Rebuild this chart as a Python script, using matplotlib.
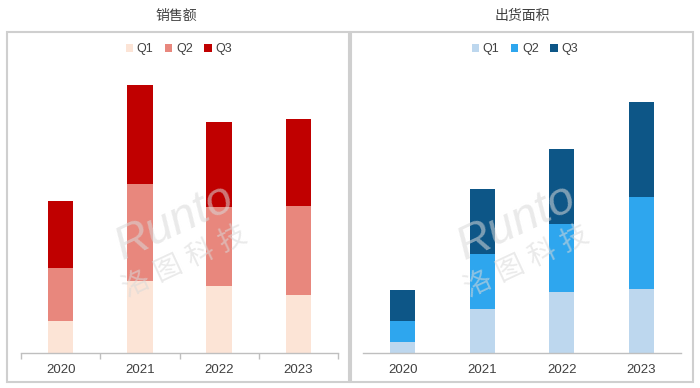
import matplotlib
matplotlib.use("Agg")
import matplotlib.pyplot as plt
from matplotlib.patches import Rectangle
import numpy as np

plt.rcParams['font.family'] = ['Liberation Sans', 'Noto Sans CJK SC', 'DejaVu Sans']

# data (arbitrary units)
years = ['2020', '2021', '2022', '2023']
quarters = ['Q1', 'Q2', 'Q3']

sales_q1 = [32, 72, 67, 58]
sales_q2 = [53, 97, 79, 89]
sales_q3 = [67, 99, 85, 87]

area_q1 = [11, 44, 61, 64]
area_q2 = [21, 55, 68, 92]
area_q3 = [31, 65, 75, 95]

sales_colors = ['#FCE4D6', '#E8877D', '#C00000']
area_colors = ['#BDD7EE', '#2EA6EE', '#0D5687']

W, H = 700, 388
fig = plt.figure(figsize=(W / 100, H / 100), dpi=100)
fig.patch.set_facecolor('white')


def px(x0, y0, x1, y1):
    # pixel box (top-left origin) -> figure fraction
    return [x0 / W, 1 - y1 / H, (x1 - x0) / W, (y1 - y0) / H]


# panel frames
for x0, x1 in [(7, 349), (351, 693)]:
    fig.patches.append(Rectangle((x0 / W, 1 - 382 / H), (x1 - x0) / W, (382 - 32) / H,
                                 transform=fig.transFigure, fill=False,
                                 edgecolor='#CFCFCF', linewidth=1.5))

panels = [
    ('销售额', [sales_q1, sales_q2, sales_q3], sales_colors, (21, 338), 176, True),
    ('出货面积', [area_q1, area_q2, area_q3], area_colors, (363, 681), 522, False),
]

for title, series, colors, (ax0, ax1), cx, ticks in panels:
    ax = fig.add_axes(px(ax0, 70, ax1, 353))
    x = np.arange(len(years))
    bottom = np.zeros(len(years))
    handles = []
    for vals, col, q in zip(series, colors, quarters):
        b = ax.bar(x, vals, width=0.32, bottom=bottom, color=col, label=q, zorder=2)
        handles.append(b)
        bottom += np.array(vals)
    ax.set_xlim(-0.5, 3.5)
    ax.set_ylim(0, 283)
    for s in ['top', 'right', 'left']:
        ax.spines[s].set_visible(False)
    ax.spines['bottom'].set_color('#BFBFBF')
    ax.spines['bottom'].set_linewidth(1.0)
    ax.set_yticks([])
    ax.set_xticks(x)
    ax.set_xticklabels(years, fontsize=9.5, color='#404040')
    ax.tick_params(axis='x', length=0, pad=8)
    if ticks:
        ax.set_xticks(np.arange(-0.5, 4, 1), minor=True)
        ax.tick_params(axis='x', which='minor', length=4, color='#BFBFBF', width=1.0)
    ax.patch.set_alpha(0)

    fig.text(cx / W, 1 - 16 / H, title, ha='center', va='center', fontsize=10, color='#404040')
    fig.legend(handles=handles, labels=quarters, loc='center',
               bbox_to_anchor=(cx / W + 0.004, 1 - 49 / H), ncol=3, frameon=False,
               fontsize=9, handlelength=0.6, handleheight=0.6, handletextpad=0.3,
               columnspacing=0.9, labelcolor='#404040')

    # faint watermark
    wx = (ax0 + ax1) / 2
    fig.text((wx - 5) / W, 1 - 222 / H, 'Runto', ha='center', va='center', fontsize=34,
             style='italic', color='#D9D9D9', alpha=0.55, rotation=25, zorder=5)
    fig.text((wx + 5) / W, 1 - 262 / H, '洛 图 科 技', ha='center', va='center', fontsize=20,
             color='#D9D9D9', alpha=0.55, rotation=25, zorder=5)

fig.savefig('out.png', dpi=100, facecolor='white')
